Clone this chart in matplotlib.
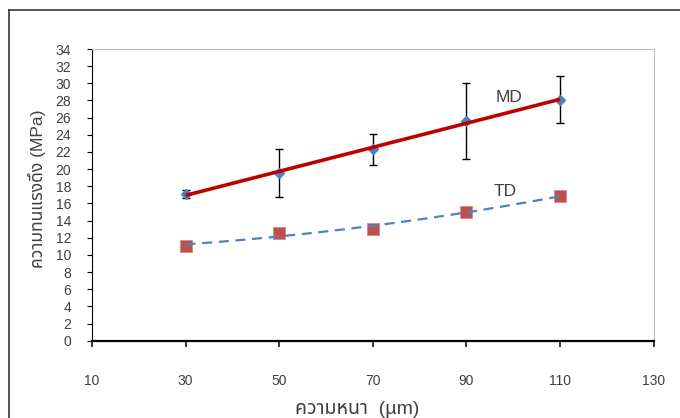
import matplotlib
matplotlib.use("Agg")
import matplotlib.pyplot as plt
from matplotlib.lines import Line2D
import numpy as np

# Tensile strength vs film thickness
thickness = [30, 50, 70, 90, 110]
md_strength = [17.1, 19.6, 22.3, 25.6, 28.1]
md_error = [0.5, 2.8, 1.8, 4.4, 2.7]
td_strength = [11.07, 12.6, 13.0, 15.04, 16.86]

x_ticks = [10, 30, 50, 70, 90, 110, 130]
y_ticks = list(range(0, 35, 2))
x_label = "ความหนา  (µm)"
y_label = "ความทนแรงดึง (MPa)"

num_font = ["Liberation Sans", "Noto Sans Thai", "DejaVu Sans"]
thai_font = ["Liberation Sans", "Noto Sans Thai", "DejaVu Sans"]
tick_color = "#404040"

W, H = 680, 418
fig = plt.figure(figsize=(W / 100, H / 100), dpi=100)

# plot area in pixel terms
x0, x1 = 92, 653.6
y_top, y_bot = 49, 340.7
ax = fig.add_axes([x0 / W, (H - y_bot) / H, (x1 - x0) / W, (y_bot - y_top) / H])

ax.set_xlim(10, 130)
ax.set_ylim(0, 34)
ax.set_xticks(x_ticks)
ax.set_yticks(y_ticks)

for side in ("top", "right"):
    ax.spines[side].set_color("#BFBFBF")
    ax.spines[side].set_linewidth(0.8)
ax.spines["left"].set_color("black")
ax.spines["left"].set_linewidth(0.8)
ax.spines["bottom"].set_color("black")
ax.spines["bottom"].set_linewidth(1.6)

ax.tick_params(axis="y", direction="out", length=3.6, width=0.8, pad=11.5,
               labelsize=10, labelcolor=tick_color, color="black")
ax.tick_params(axis="x", direction="out", length=4.3, width=1.1, pad=19.5,
               labelsize=10, labelcolor=tick_color, color="black")
for lab in ax.get_xticklabels() + ax.get_yticklabels():
    lab.set_fontfamily(num_font)

# MD: points with error bars and a linear trendline
ax.errorbar(thickness, md_strength, yerr=md_error, fmt="none", ecolor="black",
            elinewidth=1.0, capsize=2.6, capthick=1.0, zorder=3)
ax.plot(thickness, md_strength, linestyle="none", marker="D", markersize=5.5,
        color="#4F81BD", zorder=4)
xs = np.linspace(thickness[0], thickness[-1], 200)
md_fit = np.polyfit(thickness, md_strength, 1)
ax.plot(xs, np.polyval(md_fit, xs), color="#C00000", linewidth=2.6,
        solid_capstyle="butt", zorder=5)

# TD: square markers with a dashed polynomial trendline
ax.plot(thickness, td_strength, linestyle="none", marker="s", markersize=8,
        color="#C0504D", markeredgecolor="#D48A88", markeredgewidth=0.6, zorder=4)
td_fit = np.polyfit(thickness, td_strength, 2)
ax.plot(xs, np.polyval(td_fit, xs), color="#4F81BD", linewidth=1.6,
        dashes=(4.5, 3), zorder=5)

ax.text(99.1, 28.4, "MD", fontsize=12.5, color=tick_color, ha="center",
        va="center", family=num_font)
ax.text(98.2, 17.4, "TD", fontsize=12.5, color=tick_color, ha="center",
        va="center", family=num_font)

ax.set_xlabel(x_label, fontsize=14, color=tick_color, family=thai_font)
ax.xaxis.label.set_va("center")
ax.xaxis.set_label_coords((357 - x0) / (x1 - x0), -(409 - y_bot) / (y_bot - y_top))
ax.set_ylabel(y_label, fontsize=12.6, color=tick_color, family=thai_font)
ax.yaxis.label.set_va("center")
ax.yaxis.set_label_coords((37 - x0) / (x1 - x0), (y_bot - 189) / (y_bot - y_top))

# outer chart frame (runs off the right and bottom edges)
fig.add_artist(Line2D([8.5 / W, 1.0], [1 - 10 / H, 1 - 10 / H],
                      transform=fig.transFigure, color="#262626", linewidth=1.1))
fig.add_artist(Line2D([8.5 / W, 8.5 / W], [1 - 10 / H, 0.0],
                      transform=fig.transFigure, color="#262626", linewidth=1.1))

fig.savefig("out.png", dpi=100)
